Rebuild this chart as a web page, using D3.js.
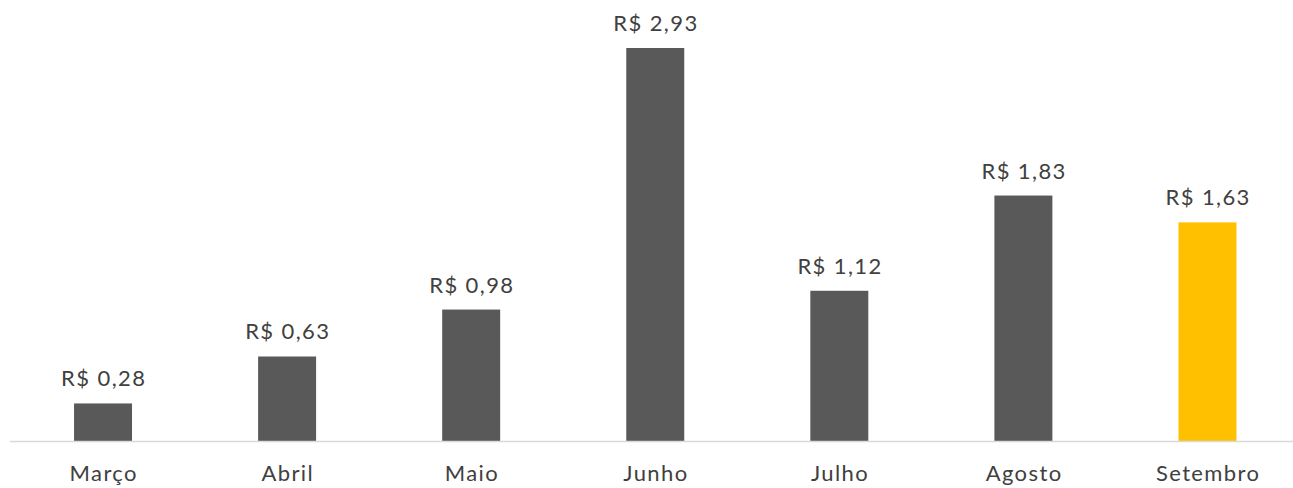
<!DOCTYPE html>
<html><head><meta charset="utf-8">
<script src="https://cdn.jsdelivr.net/npm/d3@7"></script>
<style>body{margin:0;background:#fff}svg{display:block}text{font-family:"Lato","Open Sans",sans-serif}</style>
</head><body><svg id="c" width="1293" height="488"></svg>
<script>
const categories = ["Março","Abril","Maio","Junho","Julho","Agosto","Setembro"];
const values = [0.28,0.63,0.98,2.93,1.12,1.83,1.63];
const labels = ["R$ 0,28","R$ 0,63","R$ 0,98","R$ 2,93","R$ 1,12","R$ 1,83","R$ 1,63"];
const highlight = "Setembro";

const svg = d3.select("#c");
const baseY = 441;
const x = d3.scaleBand().domain(categories).range([11, 1299.5]).paddingInner(0.685).paddingOuter(0.3425);
const y = d3.scaleLinear().domain([0, 2.93]).range([baseY, 48]);

svg.selectAll("rect.bar").data(categories).join("rect")
  .attr("x", d => x(d)).attr("width", x.bandwidth())
  .attr("y", (d,i) => y(values[i])).attr("height", (d,i) => baseY - y(values[i]))
  .attr("fill", d => d === highlight ? "#FFC000" : "#595959");

svg.append("line").attr("x1", 10).attr("x2", 1293).attr("y1", baseY + 0.5).attr("y2", baseY + 0.5)
  .attr("stroke", "#d9d9d9").attr("stroke-width", 1.5);

svg.selectAll("text.val").data(categories).join("text").attr("class","val")
  .attr("x", d => x(d) + x.bandwidth()/2 + 0.7).attr("y", (d,i) => y(values[i]) - 17)
  .attr("text-anchor","middle").attr("font-size", 22).attr("fill","#404040")
  .style("letter-spacing", "1.4px")
  .text((d,i) => labels[i]);

const ax = d3.axisBottom(x).tickSize(0).tickPadding(0);
const g = svg.append("g").attr("transform", `translate(0,${baseY})`).call(ax);
g.select(".domain").remove();
g.selectAll("text").attr("font-size", 22).attr("fill","#404040").attr("dy", null).attr("y", 40).attr("x", 0.7)
  .style("letter-spacing", "1.4px")
  .style("font-family", '"Lato","Open Sans",sans-serif');
</script></body></html>
